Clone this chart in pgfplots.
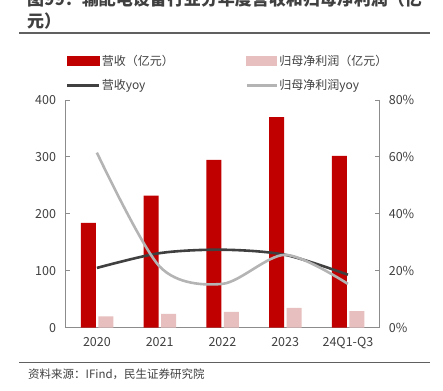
\documentclass[border=0pt]{standalone}
\usepackage{fontspec}
\setmainfont{Noto Sans CJK SC}
\usepackage{pgfplots}
\pgfplotsset{compat=1.18}
\definecolor{barred}{HTML}{C00000}
\definecolor{barpink}{HTML}{E8BFBF}
\definecolor{darkline}{HTML}{404040}
\definecolor{grayline}{HTML}{B4B4B4}
\definecolor{axisgray}{HTML}{8C8C8C}
\definecolor{txt}{HTML}{404040}
\definecolor{rulegray}{HTML}{606060}
\begin{document}
\begin{tikzpicture}
\useasboundingbox (0pt,0pt) rectangle (443pt,-390pt);
\node[anchor=west, font=\fontsize{17}{20}\selectfont\bfseries, text=txt, inner sep=0pt] at (27pt,1pt) {图99：输配电设备行业分年度营收和归母净利润（亿};
\node[anchor=west, font=\fontsize{17}{20}\selectfont\bfseries, text=txt, inner sep=0pt] at (27pt,-21pt) {元）};
\draw[rulegray, line width=1.2pt] (19pt,-33pt) -- (430pt,-33pt);
\draw[rulegray, line width=1pt] (19pt,-362pt) -- (430pt,-362pt);
\node[anchor=west, font=\fontsize{11.5}{13}\selectfont, text=txt, inner sep=0pt] at (28pt,-374pt) {资料来源：IFind，民生证券研究院};

\begin{axis}[
  at={(65.5pt,-327.7pt)}, anchor=south west,
  scale only axis, width=313.8pt, height=227.7pt,
  xmin=-0.5, xmax=4.5, ymin=0, ymax=400,
  axis x line*=bottom, axis y line*=left,
  axis line style={axisgray, line width=1.3pt, -},
  xtick={0,...,4}, xticklabels={2020,2021,2022,2023,24Q1-Q3},
  x tick style={draw=none},
  ytick={0,100,...,400},
  tick align=inside, major tick length=4pt,
  y tick style={axisgray, line width=1pt},
  tick label style={font=\fontsize{12.5}{14}\selectfont, text=txt},
  /pgf/number format/assume math mode=true,
  xticklabel style={yshift=-6pt},
  yticklabel style={xshift=-6pt},
]
\addplot[ybar, bar width=15pt, bar shift=-8.5pt, fill=barred, draw=none] coordinates {(0,184) (1,232) (2,295) (3,370) (4,302)};
\addplot[ybar, bar width=15pt, bar shift=9pt, fill=barpink, draw=none] coordinates {(0,20) (1,24.5) (2,28) (3,35) (4,29)};
\end{axis}

\begin{axis}[
  at={(65.5pt,-327.7pt)}, anchor=south west,
  scale only axis, width=313.8pt, height=227.7pt,
  xmin=-0.5, xmax=4.5, ymin=0, ymax=80,
  hide x axis, axis y line*=right,
  axis line style={axisgray, line width=1.3pt, -},
  ytick={0,20,...,80},
  yticklabel={\pgfmathprintnumber{\tick}\%},
  tick align=inside, major tick length=4pt,
  y tick style={axisgray, line width=1pt},
  tick label style={font=\fontsize{12.5}{14}\selectfont, text=txt},
  /pgf/number format/assume math mode=true,
  yticklabel style={xshift=6pt},
  legend columns=2,
  legend cell align=left,
  legend style={at={(0,1.205)}, anchor=north west, draw=none, fill=none,
    font=\fontsize{12}{14}\selectfont, text=txt, inner sep=0pt,
    nodes={inner sep=1.5pt}, row sep=10pt, column sep=0pt},
]
\addlegendimage{legend image code/.code={\fill[barred] (0pt,-4.5pt) rectangle (32pt,4.5pt);}}
\addlegendentry{\makebox[142pt][l]{营收（亿元）}}
\addlegendimage{legend image code/.code={\fill[barpink] (0pt,-4.5pt) rectangle (30pt,4.5pt);}}
\addlegendentry{归母净利润（亿元）}
\addplot[darkline, line width=2.6pt, smooth, legend image code/.code={\draw[darkline, line width=2.6pt] (0pt,0pt) -- (32pt,0pt);}] coordinates {(0,21) (1,26.2) (2,27.4) (3,25.6) (4,18.6)};
\addlegendentry{\makebox[142pt][l]{营收yoy}}
\addplot[grayline, line width=2.6pt, smooth, legend image code/.code={\draw[grayline, line width=2.6pt] (0pt,0pt) -- (30pt,0pt);}] coordinates {(0,61.5) (1,21.5) (2,15.4) (3,25.6) (4,15.4)};
\addlegendentry{归母净利润yoy}
\end{axis}
\end{tikzpicture}
\end{document}
